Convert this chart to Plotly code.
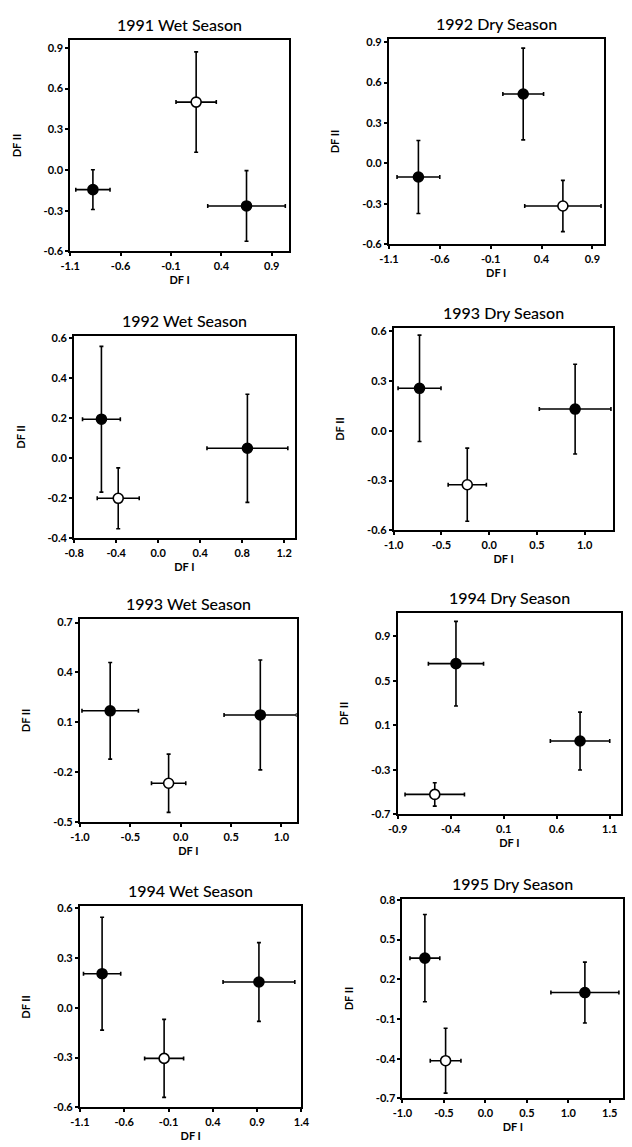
import plotly.graph_objects as go

# Group centroids on the first two discriminant functions, per sampling season
TITLES = ["1991 Wet Season", "1992 Dry Season", "1992 Wet Season", "1993 Dry Season",
          "1993 Wet Season", "1994 Dry Season", "1994 Wet Season", "1995 Dry Season"]

# three groups per panel; the third group of each panel is the open symbol
DF1 = [[-0.875, 0.65, 0.15], [-0.81, 0.22, 0.61], [-0.54, 0.85, -0.38], [-0.73, 0.90, -0.23],
       [-0.70, 0.79, -0.12], [-0.35, 0.82, -0.55], [-0.85, 0.92, -0.15], [-0.73, 1.20, -0.48]]
DF2 = [[-0.145, -0.265, 0.50], [-0.10, 0.515, -0.315], [0.195, 0.05, -0.20], [0.255, 0.13, -0.325],
       [0.17, 0.145, -0.265], [0.655, -0.04, -0.52], [0.205, 0.155, -0.305], [0.36, 0.10, -0.415]]
DF1_ERR = [[0.17, 0.385, 0.20], [0.21, 0.20, 0.375], [0.18, 0.385, 0.20], [0.225, 0.375, 0.20],
           [0.28, 0.36, 0.17], [0.26, 0.28, 0.28], [0.21, 0.405, 0.22], [0.18, 0.41, 0.185]]
DF2_ERR = [[0.146, 0.26, 0.37], [0.27, 0.34, 0.19], [0.364, 0.27, 0.152], [0.32, 0.27, 0.22],
           [0.29, 0.33, 0.175], [0.38, 0.26, 0.105], [0.34, 0.237, 0.235], [0.33, 0.23, 0.245]]

X_RANGES = [[-1.1, 1.07], [-1.1, 1.01], [-0.8, 1.30], [-1.0, 1.30],
            [-1.0, 1.15], [-0.9, 1.207], [-1.1, 1.40], [-1.0, 1.66]]
Y_RANGES = [[-0.6, 0.96], [-0.6, 0.925], [-0.4, 0.613], [-0.6, 0.62],
            [-0.5, 0.724], [-0.7, 1.114], [-0.6, 0.61], [-0.7, 0.81]]
X_TICKS = [[-1.1, -0.6, -0.1, 0.4, 0.9], [-1.1, -0.6, -0.1, 0.4, 0.9],
           [-0.8, -0.4, 0.0, 0.4, 0.8, 1.2], [-1.0, -0.5, 0.0, 0.5, 1.0],
           [-1.0, -0.5, 0.0, 0.5, 1.0], [-0.9, -0.4, 0.1, 0.6, 1.1],
           [-1.1, -0.6, -0.1, 0.4, 0.9, 1.4], [-1.0, -0.5, 0.0, 0.5, 1.0, 1.5]]
Y_TICKS = [[-0.6, -0.3, 0.0, 0.3, 0.6, 0.9], [-0.6, -0.3, 0.0, 0.3, 0.6, 0.9],
           [-0.4, -0.2, 0.0, 0.2, 0.4, 0.6], [-0.6, -0.3, 0.0, 0.3, 0.6],
           [-0.5, -0.2, 0.1, 0.4, 0.7], [-0.7, -0.3, 0.1, 0.5, 0.9],
           [-0.6, -0.3, 0.0, 0.3, 0.6], [-0.7, -0.4, -0.1, 0.2, 0.5, 0.8]]

# plot-area boxes in pixels: left, right, top, bottom
W, H = 632, 1147
BOXES = [(62, 287, 34, 248), (390, 611, 33, 241),
         (66, 293, 333, 538), (395, 621, 325, 530),
         (72, 295, 619, 825), (399, 629, 613, 817),
         (72, 300, 910, 1113), (404, 631, 902, 1104)]

FONT = "Lato"
fig = go.Figure()
layout = dict(width=W, height=H, margin=dict(l=0, r=0, t=0, b=0),
              paper_bgcolor="white", plot_bgcolor="white", showlegend=False,
              font=dict(family=FONT, color="black"), annotations=[])

for i in range(8):
    n = i + 1
    xa = "x" if n == 1 else f"x{n}"
    ya = "y" if n == 1 else f"y{n}"
    l, r, t, b = BOXES[i]
    xdom = [l / W, r / W]
    ydom = [1 - b / H, 1 - t / H]
    for g in range(3):
        is_open = g == 2
        fig.add_trace(go.Scatter(
            x=[DF1[i][g]], y=[DF2[i][g]], mode="markers", xaxis=xa, yaxis=ya,
            marker=dict(size=10, color="white" if is_open else "black",
                        line=dict(color="black", width=1.6)),
            error_x=dict(type="data", array=[DF1_ERR[i][g]], color="black",
                         thickness=1.6, width=2),
            error_y=dict(type="data", array=[DF2_ERR[i][g]], color="black",
                         thickness=1.6, width=2),
            cliponaxis=False))
    axis_common = dict(showline=True, linecolor="black", linewidth=2, mirror=True,
                       ticks="outside", ticklen=3, tickwidth=1.5, tickcolor="black",
                       showgrid=False, zeroline=False,
                       tickfont=dict(family=FONT, size=11, weight="bold"))
    layout["xaxis" if n == 1 else f"xaxis{n}"] = dict(
        axis_common, domain=xdom, range=X_RANGES[i], anchor=ya,
        tickvals=X_TICKS[i], ticktext=[f"{v:.1f}" for v in X_TICKS[i]],
        title=dict(text="DF I", standoff=6, font=dict(family=FONT, size=11, weight="bold")))
    layout["yaxis" if n == 1 else f"yaxis{n}"] = dict(
        axis_common, domain=ydom, range=Y_RANGES[i], anchor=xa,
        tickvals=Y_TICKS[i], ticktext=[f"{v:.1f}" for v in Y_TICKS[i]],
        title=dict(text="DF II", standoff=20, font=dict(family=FONT, size=11, weight="bold")))
    layout["annotations"].append(dict(
        text=TITLES[i], xref="paper", yref="paper", x=(xdom[0] + xdom[1]) / 2,
        y=ydom[1], xanchor="center", yanchor="bottom", yshift=4, showarrow=False,
        font=dict(family=FONT, size=16, weight=500)))

fig.update_layout(**layout)
fig.write_html("out.html")
